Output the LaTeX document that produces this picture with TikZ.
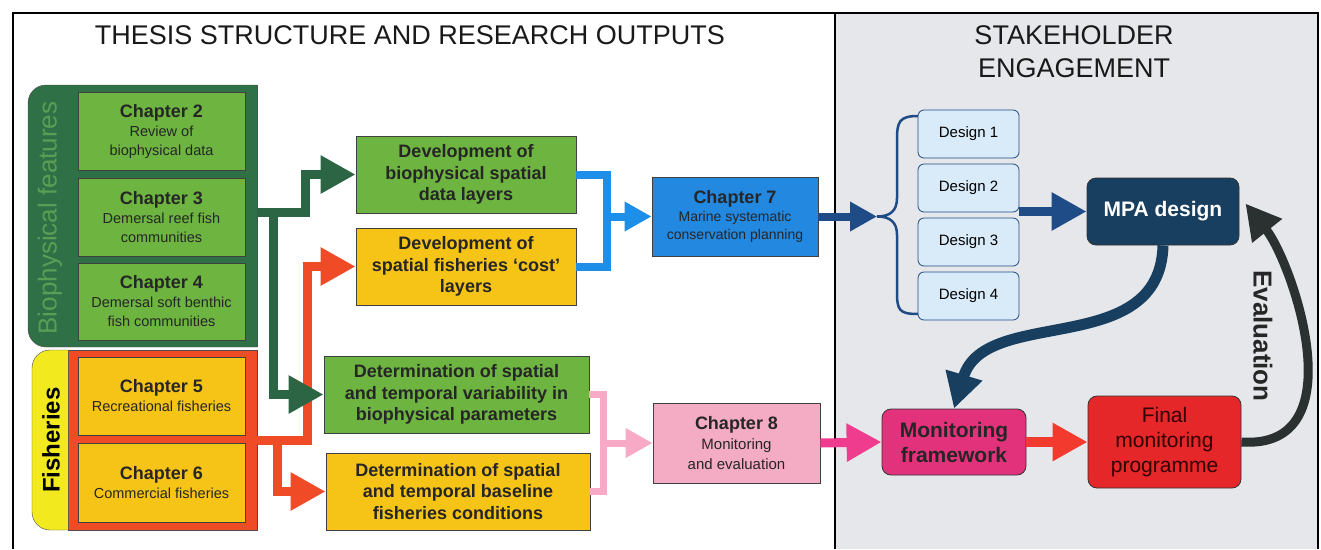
\documentclass[tikz,border=0pt]{standalone}
\usepackage{fontspec}
\setmainfont{Liberation Sans}
\usetikzlibrary{arrows.meta}

\definecolor{panel}{HTML}{E5E7EB}
\definecolor{forest}{HTML}{2F7047}
\definecolor{moss}{HTML}{5A9E55}
\definecolor{pine}{HTML}{2B6543}
\definecolor{leaf}{HTML}{6DB440}
\definecolor{sun}{HTML}{F6C317}
\definecolor{lemon}{HTML}{F2EA1E}
\definecolor{flame}{HTML}{EE4B26}
\definecolor{sky}{HTML}{1E8FE8}
\definecolor{chsky}{HTML}{2288E0}
\definecolor{rose}{HTML}{F7A9C5}
\definecolor{chrose}{HTML}{F4ABC4}
\definecolor{navyline}{HTML}{1F4C86}
\definecolor{mpablue}{HTML}{183F5F}
\definecolor{ice}{HTML}{D9EAF8}
\definecolor{mfpink}{HTML}{E3327C}
\definecolor{hotpink}{HTML}{F03C8E}
\definecolor{scarlet}{HTML}{E52729}
\definecolor{redline}{HTML}{F23B2E}
\definecolor{charcoal}{HTML}{2B3030}

\newcommand{\chead}[1]{{\fontsize{18}{19}\selectfont\bfseries #1}}

\begin{document}
\begin{tikzpicture}[x=1pt,y=-1pt,
  heading/.style={font=\fontsize{27}{33}\selectfont, text=black!90, inner sep=0pt, align=center},
  box/.style={draw=black!75, line width=0.8pt, align=center, inner sep=0pt, text=black!85},
  chap/.style={box, minimum width=167pt, minimum height=78pt, font=\fontsize{14.5}{19}\selectfont},
  layerbox/.style={box, minimum height=77pt, font=\fontsize{18}{21.5}\selectfont\bfseries},
  design/.style={draw=navyline, line width=0.8pt, rounded corners=6pt, fill=ice, minimum width=101pt, minimum height=48pt, font=\fontsize{15}{17}\selectfont},
  stage/.style={draw=black!80, line width=0.8pt, rounded corners=9pt, align=center, inner sep=0pt, font=\fontsize{21}{25}\selectfont\bfseries},
  pipe/.style={line width=8pt},
  fat/.style={line width=9pt, -{Triangle[width=36pt,length=35pt]}},
  slim/.style={line width=8pt, -{Triangle[width=28pt,length=27pt]}}]
\useasboundingbox (0,0) rectangle (1321,549);

% panels and frame
\fill [panel] (835,13) rectangle (1318,549);
\draw [line width=1.2pt] (13,549) -- (13,13) -- (1318,13) -- (1318,549); \draw [line width=1.2pt] (835,13) -- (835,549);
\node [heading] (lefttitle) at (410,35) {THESIS STRUCTURE AND RESEARCH OUTPUTS};
\node [heading] (righttitle) at (1074,52) {STAKEHOLDER\\ENGAGEMENT};

% biophysical features group
\filldraw [fill=forest, draw=black!70, rounded corners=18pt] (257,85) -- (28,85) -- (28,347) -- (257,347);
\draw [black!70] (257,85) -- (257,347);
\node [rotate=90, font=\fontsize{26}{26}\selectfont, text=moss] (biolab) at (50,218) {Biophysical features};

% fisheries group
\filldraw [fill=flame, draw=black!70] (68,350) rectangle (257,530);
\filldraw [fill=lemon, draw=black!70, rounded corners=18pt] (68,350) -- (32,350) -- (32,530) -- (68,530);
\node [rotate=90, font=\fontsize{24}{24}\selectfont\bfseries] (fislab) at (51,440) {Fisheries};

% chapters
\node [chap, fill=leaf] (ch2) at (161.5,131) {\chead{Chapter 2}\\Review of\\biophysical data};
\node [chap, fill=leaf] (ch3) at (161.5,217.5) {\chead{Chapter 3}\\Demersal reef fish\\communities};
\node [chap, fill=leaf, minimum height=77pt] (ch4) at (161.5,301.5) {\chead{Chapter 4}\\Demersal soft benthic\\fish communities};
\node [chap, fill=sun] (ch5) at (161.5,396) {\chead{Chapter 5}\\Recreational fisheries};
\node [chap, fill=sun, minimum height=79pt] (ch6) at (161.5,482.5) {\chead{Chapter 6}\\Commercial fisheries};

% research outputs
\node [layerbox, fill=leaf, minimum width=220pt] (devbio) at (466,174.5) {Development of\\biophysical spatial\\data layers};
\node [layerbox, fill=sun, minimum width=220pt] (devcost) at (466,266.5) {Development of\\spatial fisheries ‘cost’\\layers};
\node [layerbox, fill=leaf, minimum width=265pt] (detvar) at (456.5,394.5) {Determination of spatial\\and temporal variability in\\biophysical parameters};
\node [layerbox, fill=sun, minimum width=264pt] (detbase) at (458,491.5) {Determination of spatial\\and temporal baseline\\fisheries conditions};

\node [box, fill=chsky, minimum width=166pt, minimum height=79pt, font=\fontsize{14}{18}\selectfont] (ch7) at (735,216.5) {\chead{Chapter 7}\\Marine systematic\\conservation planning};
\node [box, fill=chrose, minimum width=167pt, minimum height=80pt, font=\fontsize{15}{20}\selectfont] (ch8) at (736.5,443) {\chead{Chapter 8}\\Monitoring\\and evaluation};

% stakeholder side
\foreach \i/\y in {1/134,2/188,3/242,4/296}
  \node [design] (d\i) at (968.5,\y) {Design \i};
\node [stage, fill=mpablue, text=white, minimum width=152pt, minimum height=67pt] (mpa) at (1163,211.5) {MPA design};
\node [stage, fill=mfpink, text=black!85, minimum width=144pt, minimum height=66pt] (mf) at (954,442) {Monitoring\\framework};
\node [stage, fill=scarlet, text=black!80!red, font=\fontsize{21}{25}\selectfont, minimum width=153pt, minimum height=92pt] (final) at (1164.5,442) {Final\\monitoring\\programme};
\node [rotate=-90, font=\fontsize{26}{26}\selectfont\bfseries, text=black!85] (evallab) at (1263,336) {Evaluation};

% connectors
\coordinate (fisout) at (257,440); \coordinate (fisbr) at (277,440);
\draw [fat, flame] (fisout) -- ++(50,0) |- (devcost.west);
\draw [fat, flame] (fisbr) |- (detbase.west);
\coordinate (bioout) at (257,212); \coordinate (biobr) at (273,212);
\draw [fat, pine] (bioout) -- ++(48,0) |- (devbio.west);
\draw [fat, pine] (biobr) |- (detvar.west);

\coordinate (bj) at (607,216.5);
\draw [pipe, sky] (devbio.east) -| (bj) |- (devcost.east);
\draw [slim, sky] (bj) -- (ch7.west);
\coordinate (pj) at (603,443);
\draw [pipe, rose, line width=7pt] (detvar.east) -| (pj) |- (detbase.east);
\draw [slim, rose, line width=7pt] (pj) -- (ch8.west);

\coordinate (btip) at (877,216.5);
\draw [slim, navyline] (ch7.east) -- (btip);
\draw [navyline, line width=2.5pt] (918,116) .. controls (899,116) and (897,122) .. (897,140) -- (897,198) .. controls (897,211) and (890,216.5) .. (btip) .. controls (890,216.5) and (897,222) .. (897,235) -- (897,292) .. controls (897,310) and (899,314) .. (918,314);

\draw [fat, navyline] (mpa.west -| d2.east) -- (mpa.west);
\draw [fat, mpablue, line width=11pt] (mpa.south) .. controls (1160,360) and (985,305) .. (mf.north);
\draw [fat, hotpink] (ch8.east) -- (mf.west);
\draw [fat, redline, line width=10pt] (mf.east) -- (final.west);
\draw [fat, charcoal] (final.east) .. controls (1358,450) and (1292,262) .. ([xshift=6pt,yshift=8pt]mpa.east);

\end{tikzpicture}
\end{document}
